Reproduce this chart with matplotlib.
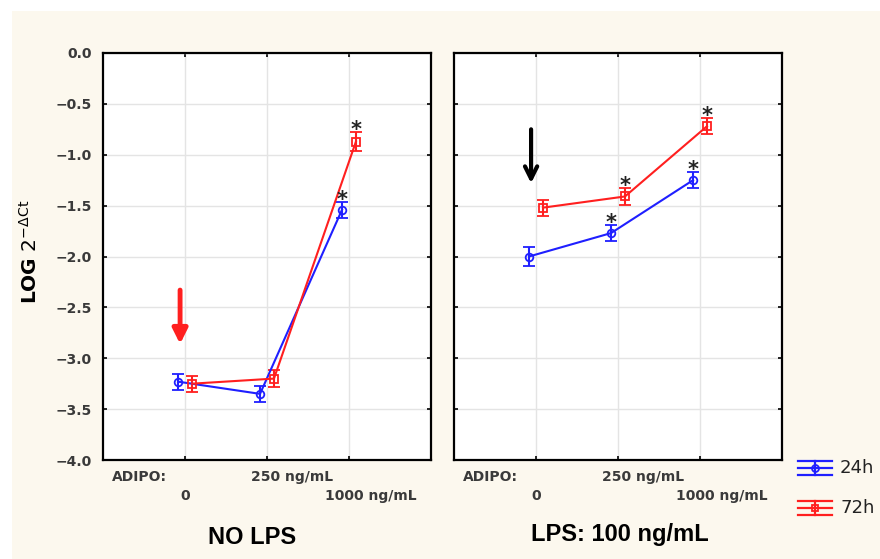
import matplotlib
matplotlib.use("Agg")
import matplotlib.pyplot as plt
from matplotlib.lines import Line2D
from matplotlib.patches import Rectangle

plt.rcParams['font.family'] = ['Liberation Sans', 'DejaVu Sans']

# ---------------- data ----------------
doses = ["0", "250 ng/mL", "1000 ng/mL"]
series = ["24h", "72h"]

nolps_24h = [-3.23, -3.35, -1.54]
nolps_24h_err = [0.08, 0.08, 0.08]
nolps_72h = [-3.25, -3.20, -0.87]
nolps_72h_err = [0.08, 0.085, 0.09]

lps_24h = [-2.00, -1.77, -1.25]
lps_24h_err = [0.09, 0.08, 0.08]
lps_72h = [-1.52, -1.41, -0.72]
lps_72h_err = [0.08, 0.08, 0.08]

# significance flags (asterisks)
nolps_24h_sig = [False, False, True]
nolps_72h_sig = [False, False, True]
lps_24h_sig = [False, True, True]
lps_72h_sig = [False, True, True]

panel_titles = ["NO LPS", "LPS: 100 ng/mL"]
yticks = [0.0, -0.5, -1.0, -1.5, -2.0, -2.5, -3.0, -3.5, -4.0]

BLUE = "#1f1fff"
RED = "#ff1f1f"
CREAM = "#fcf8ee"
TICKC = "#3a3a3a"
TICKFONT = "DejaVu Sans"

W, H = 880, 559
fig = plt.figure(figsize=(W / 100, H / 100), dpi=100)
fig.patch.set_facecolor("white")
fig.add_artist(Rectangle((12 / W, 0), 1 - 12 / W, 1 - 11 / H, transform=fig.transFigure,
                         facecolor=CREAM, edgecolor="none", zorder=-10))

def px(x0, y0, w, h):
    return [x0 / W, 1 - (y0 + h) / H, w / W, h / H]

ax1 = fig.add_axes(px(103, 53, 328, 407))
ax2 = fig.add_axes(px(454, 53, 328, 407))

panels = [
    (ax1, nolps_24h, nolps_24h_err, nolps_24h_sig, nolps_72h, nolps_72h_err, nolps_72h_sig),
    (ax2, lps_24h, lps_24h_err, lps_24h_sig, lps_72h, lps_72h_err, lps_72h_sig),
]

xpos = [1, 2, 3]
off = 0.085

for i, (ax, m24, e24, s24, m72, e72, s72) in enumerate(panels):
    ax.set_facecolor("white")
    ax.set_xlim(0, 4)
    ax.set_ylim(-4.0, 0.0)
    ax.set_yticks(yticks)
    ax.set_xticks(xpos)
    ax.grid(True, color="#e4e4e4", lw=1.0, zorder=0)
    ax.tick_params(direction="in", length=3, width=1.2, top=True, right=True,
                   labelbottom=False, colors="black")
    if i == 0:
        ax.set_yticklabels([f"{v:.1f}".replace("-", "\u2212") for v in yticks],
                           fontsize=10, fontweight="bold", color=TICKC, family=TICKFONT)
        ax.tick_params(axis="y", pad=8)
    else:
        ax.set_yticklabels([])
    for sp in ax.spines.values():
        sp.set_linewidth(1.6)
        sp.set_color("black")

    for (m, e, s, col, mk, dx) in [(m24, e24, s24, BLUE, "o", -off), (m72, e72, s72, RED, "s", off)]:
        xs = [x + dx for x in xpos]
        ax.errorbar(xs, m, yerr=e, color=col, lw=1.5, marker=mk, ms=5.5, mfc="none", mec=col,
                    mew=1.3, capsize=4.5, capthick=1.5, elinewidth=1.5, zorder=3)
        for x, v, err, sig in zip(xs, m, e, s):
            if sig:
                ax.text(x, v + err + 0.02, "*", ha="center", va="center", fontsize=15,
                        fontweight="bold", color="#222222", zorder=4, family=TICKFONT)

    # category labels
    tr = ax.get_xaxis_transform()
    lab_kw = dict(fontsize=10, fontweight="bold", color=TICKC, transform=tr, clip_on=False,
                  family=TICKFONT)
    ax.text(0.11, -0.042, "ADIPO:", ha="left", va="center", **lab_kw)
    ax.text(2.30, -0.042, doses[1], ha="center", va="center", **lab_kw)
    ax.text(1.0, -0.089, doses[0], ha="center", va="center", **lab_kw)
    ax.text(3.27, -0.089, doses[2], ha="center", va="center", **lab_kw)

# panel titles
fig.text(252 / W, 1 - 537 / H, panel_titles[0], ha="center", va="center",
         fontsize=17, fontweight="bold", color="black")
fig.text(620 / W, 1 - 535 / H, panel_titles[1], ha="center", va="center",
         fontsize=17, fontweight="bold", color="black")

# arrows
ax1.annotate("", xy=(0.94, -2.86), xytext=(0.94, -2.33),
             arrowprops=dict(arrowstyle="-|>", color=RED, lw=3.5, mutation_scale=22,
                             shrinkA=0, shrinkB=0))
ax2.annotate("", xy=(0.94, -1.28), xytext=(0.94, -0.75),
             arrowprops=dict(arrowstyle="->", color="black", lw=3, mutation_scale=22,
                             shrinkA=0, shrinkB=0))

# y label
fig.text(30 / W, 1 - 252 / H, r"$\mathbf{LOG}\ 2^{-\Delta \mathrm{Ct}}$", rotation=90,
         ha="center", va="center", fontsize=14.5, color="black")

# legend (custom)
for j, (name, col, mk) in enumerate([(series[0], BLUE, "o"), (series[1], RED, "s")]):
    yc = 468 + j * 40
    for dy in (-7, 0, 7):
        fig.add_artist(Line2D([798 / W, 832 / W], [1 - (yc + dy) / H] * 2,
                              transform=fig.transFigure, color=col, lw=1.6))
    fig.add_artist(Line2D([815 / W, 815 / W], [1 - (yc - 7) / H, 1 - (yc + 7) / H],
                          transform=fig.transFigure, color=col, lw=1.6))
    fig.add_artist(Line2D([815 / W], [1 - yc / H], transform=fig.transFigure, color=col,
                          marker=mk, ms=5, mfc="none", mec=col, mew=1.3, lw=0))
    fig.text(840 / W, 1 - yc / H, name, ha="left", va="center", fontsize=13,
             color="#222222", family=TICKFONT)

fig.savefig("out.png", dpi=100)
